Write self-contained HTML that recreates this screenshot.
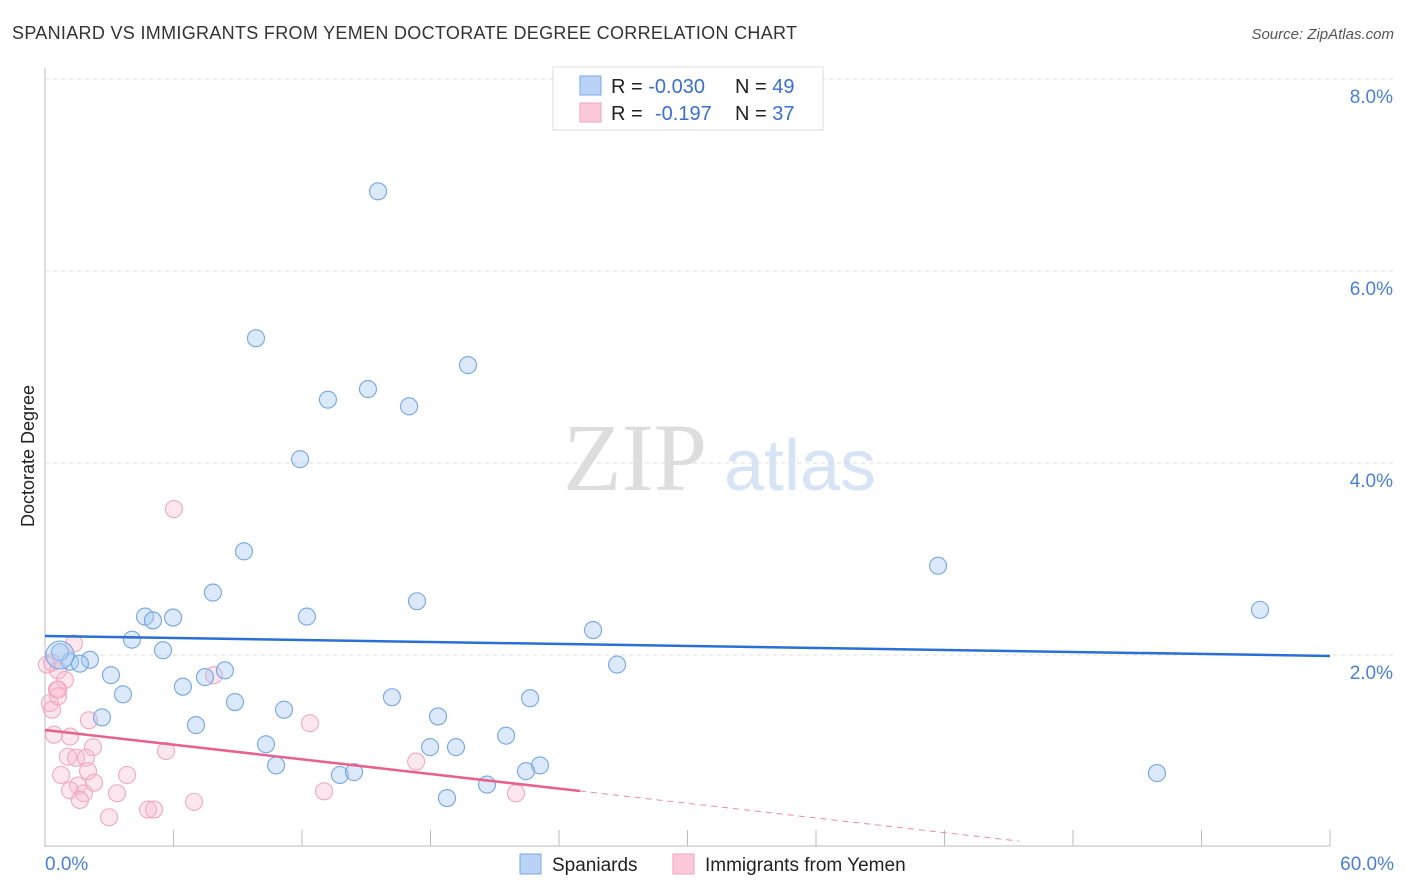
<!DOCTYPE html>
<html><head><meta charset="utf-8"><style>
body{margin:0;background:#fff;font-family:"Liberation Sans",sans-serif}
svg{display:block}
</style></head><body>
<svg id="chart" width="1406" height="892">
<text x="12" y="39" font-size="18" fill="#333" textLength="785">SPANIARD VS IMMIGRANTS FROM YEMEN DOCTORATE DEGREE CORRELATION CHART</text>
<text x="1394" y="39" font-size="15" fill="#555" font-style="italic" text-anchor="end">Source: ZipAtlas.com</text>
<text x="34" y="456" font-size="18" fill="#222" transform="rotate(-90 34 456)" text-anchor="middle">Doctorate Degree</text>
<g><text x="635" y="490" font-size="96" font-family="Liberation Serif,serif" fill="#ddd" text-anchor="middle">ZIP</text><text x="800" y="490" font-size="72" fill="#d6e4f5" text-anchor="middle">atlas</text></g>
<g id="grid"></g><g id="marks"></g>
<g>
<rect x="553" y="67" width="270" height="63" fill="#fff" stroke="#ddd"/>
<rect x="580" y="76" width="21" height="19" fill="#b8d3f5" stroke="#7aa8e6"/>
<rect x="580" y="103" width="21" height="19" fill="#fbcad8" stroke="#f0a0b8"/>
<text x="611" y="93" font-size="20" fill="#222">R = <tspan fill="#3a6fd0">-0.030</tspan><tspan x="735">N = </tspan><tspan fill="#3a6fd0">49</tspan></text>
<text x="611" y="120" font-size="20" fill="#222">R = <tspan x="655" fill="#3a6fd0">-0.197</tspan><tspan x="735">N = </tspan><tspan fill="#3a6fd0">37</tspan></text>
</g>
<g>
<rect x="520" y="854" width="21" height="20" fill="#b8d3f5" stroke="#7aa8e6"/>
<text x="552" y="871" font-size="19" fill="#222">Spaniards</text>
<rect x="673" y="854" width="21" height="20" fill="#fbcad8" stroke="#f0a0b8"/>
<text x="705" y="871" font-size="19" fill="#222">Immigrants from Yemen</text>
</g>
</svg>
<script>
const yTicks=[2,4,6,8];
const yTickLabels=["2.0%","4.0%","6.0%","8.0%"];
const xTicks=[0,6,12,18,24,30,36,42,48,54,60];
const blueX=[15.55,9.85,19.75,13.21,15.08,17.0,11.91,41.7,9.29,7.84,56.73,17.37,4.67,5.04,5.98,12.23,4.06,25.59,5.51,26.71,2.1,1.17,1.63,0.7,3.08,8.4,7.47,6.44,3.64,8.87,16.2,22.65,11.16,2.66,7.05,18.35,10.32,17.98,19.19,21.53,10.79,13.77,14.43,23.11,22.46,18.77,20.64,51.92,0.7];
const blueY=[6.83,5.3,5.02,4.66,4.77,4.59,4.04,2.93,3.08,2.65,2.47,2.56,2.4,2.36,2.39,2.4,2.16,2.26,2.05,1.9,1.95,1.93,1.91,2.03,1.79,1.84,1.77,1.67,1.59,1.51,1.56,1.55,1.43,1.35,1.27,1.36,1.07,1.04,1.04,1.16,0.85,0.75,0.78,0.85,0.79,0.51,0.65,0.77,2.0];
const pinkX=[6.02,1.35,0.33,0.61,0.93,0.56,0.23,0.33,0.61,2.05,0.42,1.17,2.24,5.65,1.07,1.45,1.91,0.75,3.83,2.01,1.54,2.29,1.17,1.82,3.36,1.63,2.99,4.81,5.09,6.96,12.37,7.89,17.33,13.03,21.99,0.61,0.09];
const pinkY=[3.52,2.12,1.92,1.84,1.74,1.64,1.5,1.43,1.57,1.32,1.17,1.15,1.04,1.0,0.94,0.93,0.93,0.75,0.75,0.79,0.64,0.67,0.59,0.56,0.56,0.49,0.31,0.39,0.39,0.47,1.29,1.79,0.89,0.58,0.56,1.64,1.9];
const blueTrend=[2.198,1.99];
const pinkTrend=[1.219,0.583];
const pinkSolidEnd=24.98;
const pinkDashEnd=45.5;
const X=v=>45+v*21.417, Y=v=>847-v*96;
const NS="http://www.w3.org/2000/svg";
const g=document.getElementById('grid'), m=document.getElementById('marks');
function el(t,a,p){const e=document.createElementNS(NS,t);for(const k in a)e.setAttribute(k,a[k]);p.appendChild(e);return e;}
const ax=el('line',{x1:45,y1:68,x2:45,y2:847,stroke:'#bbb'},g);


const bx=el('line',{x1:45,y1:846,x2:1330,y2:846,stroke:'#bbb'},g);


yTicks.forEach((t,i)=>{
 const l=el('line',{x1:45,y1:Y(t),x2:1394,y2:Y(t),stroke:'#ddd','stroke-dasharray':'4,4'},g);
 
 
 const tx=el('text',{x:1393,y:Y(t)+24,'font-size':19,fill:'#4a7fd6','text-anchor':'end'},g);
 tx.textContent=yTickLabels[i];
 
 
});
xTicks.forEach(t=>{
 if(t===0)return;
 const l=el('line',{x1:X(t),y1:830,x2:X(t),y2:846,stroke:'#bbb'},g);
 
 
});
const x0=el('text',{x:45,y:870,'font-size':19,fill:'#4a7fd6'},g);x0.textContent='0.0%';


const x1=el('text',{x:1394,y:870,'font-size':19,fill:'#4a7fd6','text-anchor':'end'},g);x1.textContent='60.0%';


pinkX.forEach((v,i)=>{
 const c=el('circle',{cx:X(v),cy:Y(pinkY[i]),r:8.5,fill:'rgba(248,185,205,0.35)',stroke:'#f0a8be','stroke-width':1.1},m);
 
 
});
blueX.forEach((v,i)=>{
 const c=el('circle',{cx:X(v),cy:Y(blueY[i]),r:i===blueX.length-1?14:8.5,fill:'rgba(165,200,242,0.4)',stroke:'#74a6e4','stroke-width':1.1},m);
 
 
});
const bl=el('line',{x1:X(0),y1:Y(blueTrend[0]),x2:X(60),y2:Y(blueTrend[1]),stroke:'#2a6fd6','stroke-width':2.5},m);


const slope=(pinkTrend[1]-pinkTrend[0])/pinkSolidEnd;
const pl=el('line',{x1:X(0),y1:Y(pinkTrend[0]),x2:X(pinkSolidEnd),y2:Y(pinkTrend[1]),stroke:'#e8608c','stroke-width':2.5},m);


const pd=el('line',{x1:X(pinkSolidEnd),y1:Y(pinkTrend[1]),x2:X(pinkDashEnd),y2:Y(pinkTrend[0]+slope*pinkDashEnd),stroke:'#ee8aa8','stroke-width':1,'stroke-dasharray':'6,5'},m);


</script>
</body></html>
